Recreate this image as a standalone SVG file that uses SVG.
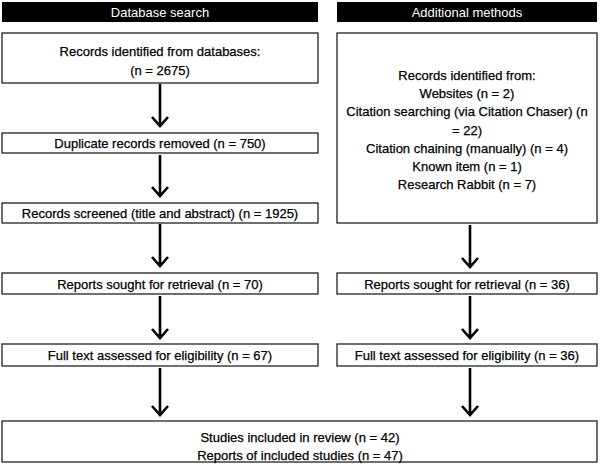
<svg xmlns="http://www.w3.org/2000/svg" width="600" height="464" viewBox="0 0 600 464">
<style>
.hdr{fill:#000}
.box{fill:#fff;stroke:#222;stroke-width:1.3}
text{font-family:"Liberation Sans",Arial,sans-serif;font-size:13px;text-anchor:middle;dominant-baseline:central;fill:#000;stroke:#000;stroke-width:0.25}
.ht{fill:#fff;stroke:none}
.arr{fill:none;stroke:#000;stroke-width:2.6}
</style>
<rect width="600" height="464" fill="#fff"/>
<g id="hdr-db"><rect class="hdr" x="2" y="2" width="316" height="20"/><text class="ht" x="160" y="12.5">Database search</text></g>
<g id="hdr-add"><rect class="hdr" x="337" y="2" width="260" height="20"/><text class="ht" x="467" y="12.5">Additional methods</text></g>
<g id="n1"><rect class="box" x="2" y="33" width="316" height="50"/><text x="160" y="51">Records identified from databases:</text><text x="160" y="70">(n = 2675)</text></g>
<g id="n2"><rect class="box" x="2" y="133" width="316" height="20"/><text x="160" y="143.5">Duplicate records removed (n = 750)</text></g>
<g id="n3"><rect class="box" x="2" y="203" width="316" height="20"/><text x="160" y="213.5">Records screened (title and abstract) (n = 1925)</text></g>
<g id="n4"><rect class="box" x="2" y="273" width="316" height="21"/><text x="160" y="284">Reports sought for retrieval (n = 70)</text></g>
<g id="n5"><rect class="box" x="2" y="344" width="316" height="22"/><text x="160" y="355">Full text assessed for eligibility (n = 67)</text></g>
<g id="m1"><rect class="box" x="337" y="33" width="260" height="190"/>
<text x="467" y="75">Records identified from:</text>
<text x="467" y="93">Websites (n = 2)</text>
<text x="467" y="111.5">Citation searching (via Citation Chaser) (n</text>
<text x="467" y="130">= 22)</text>
<text x="467" y="148">Citation chaining (manually) (n = 4)</text>
<text x="467" y="166">Known item (n = 1)</text>
<text x="467" y="184">Research Rabbit (n = 7)</text></g>
<g id="m2"><rect class="box" x="337" y="273" width="260" height="21"/><text x="467" y="284">Reports sought for retrieval (n = 36)</text></g>
<g id="m3"><rect class="box" x="337" y="344" width="260" height="22"/><text x="467" y="355">Full text assessed for eligibility (n = 36)</text></g>
<g id="fin"><rect class="box" x="2" y="421" width="595" height="41"/><text x="300" y="437">Studies included in review (n = 42)</text><text x="300" y="455">Reports of included studies (n = 47)</text></g>
<g id="connectors">
<path class="arr" d="M160 84V126M152 117L160 126L168 117"/>
<path class="arr" d="M160 155V196M152 187L160 196L168 187"/>
<path class="arr" d="M160 224V266M152 257L160 266L168 257"/>
<path class="arr" d="M160 296V338M152 329L160 338L168 329"/>
<path class="arr" d="M160 368V415M152 406L160 415L168 406"/>
<path class="arr" d="M470 225V267M462 258L470 267L478 258"/>
<path class="arr" d="M470 296V338M462 329L470 338L478 329"/>
<path class="arr" d="M470 368V415M462 406L470 415L478 406"/>
</g>
</svg>
